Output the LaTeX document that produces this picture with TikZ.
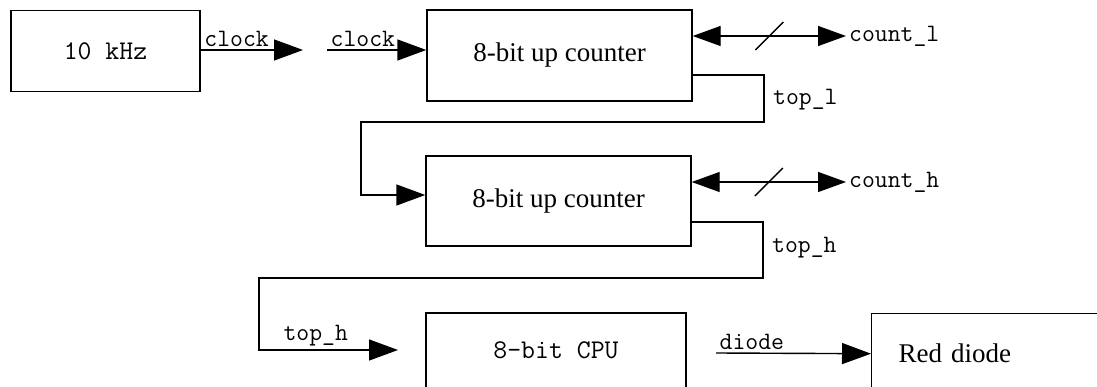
\documentclass[tikz,border=0pt]{standalone}
\usepackage{fontspec}
\setmainfont{Liberation Serif}
\usetikzlibrary{positioning, arrows.meta, calc}

\begin{document}
\begin{tikzpicture}[
    x=1pt, y=-1pt,
    block/.style={rectangle, draw=black, line width=1.4pt, inner sep=0pt, font=\fontsize{27}{30}\selectfont},
    monoblock/.style={block, font=\ttfamily\fontsize{27}{30}\selectfont},
    arrow/.style={-{Triangle[length=29pt, width=21pt]}, line width=1.4pt},
    bus/.style={{Triangle[length=28pt, width=20pt]}-{Triangle[length=28pt, width=20pt]}, line width=1.4pt},
    tag/.style={font=\ttfamily\fontsize{25}{27}\selectfont, inner sep=3pt}
]
\clip (0,0) rectangle (1097,387);
\fill[white] (0,0) rectangle (1097,387);

% Blocks
\node[monoblock, minimum width=189pt, minimum height=81pt] (osc) at (105.5,51) {10 kHz};
\node[block, minimum width=265pt, minimum height=91pt] (cntlo) at (559.5,55.5) {8-bit up counter};
\node[block, minimum width=265pt, minimum height=90pt] (cnthi) at (558.5,201) {8-bit up counter};
\node[monoblock, minimum width=260pt, minimum height=75pt] (cpu) at (556,350.5) {8-bit CPU};
\node[block, anchor=north west, minimum height=80pt, text width=200pt, align=left, inner xsep=27pt] (led) at (871,313) {Red diode};

% Outputs
\node[tag, anchor=west] (countlo) at (846,36) {count\_l};
\node[tag, anchor=west] (counthi) at (846,182) {count\_h};
\node[tag, anchor=west] (toplo) at (770,100) {top\_l};
\node[tag, anchor=west] (tophi) at (769,248) {top\_h};

% Loose ends
\coordinate (clkout) at (303,50);
\coordinate (clkin) at (327,50);
\coordinate (topin) at (398,350);
\coordinate (cpuout) at (716,353);

% Clock
\draw[arrow] (osc.east |- clkout) -- node[tag, anchor=south west, pos=0] {clock} (clkout);
\draw[arrow] (clkin) -- node[tag, anchor=south west, pos=0] {clock} (cntlo.west |- clkin);

% Count buses
\draw[bus] (cntlo.east |- countlo) -- coordinate[midway] (buslo) (countlo.west);
\draw[line width=1.4pt] ([shift={(-14,14)}]buslo) -- ([shift={(14,-14)}]buslo);
\draw[bus] (cnthi.east |- counthi) -- coordinate[midway] (bushi) (counthi.west);
\draw[line width=1.4pt] ([shift={(-14,14)}]bushi) -- ([shift={(14,-14)}]bushi);

% Carry lines
\draw[arrow] (cntlo.east |- 0,75) -| (764,122) -| (361,195) -- (cnthi.west |- 0,195);
\draw[arrow] (cnthi.east |- 0,222) -| (763,278) -| (259,350) -- node[tag, anchor=south west, pos=0.15] {top\_h} (topin);

% Diode
\draw[arrow] (cpuout) -- node[tag, anchor=south west, pos=0] {diode} (led.west);
\end{tikzpicture}
\end{document}
